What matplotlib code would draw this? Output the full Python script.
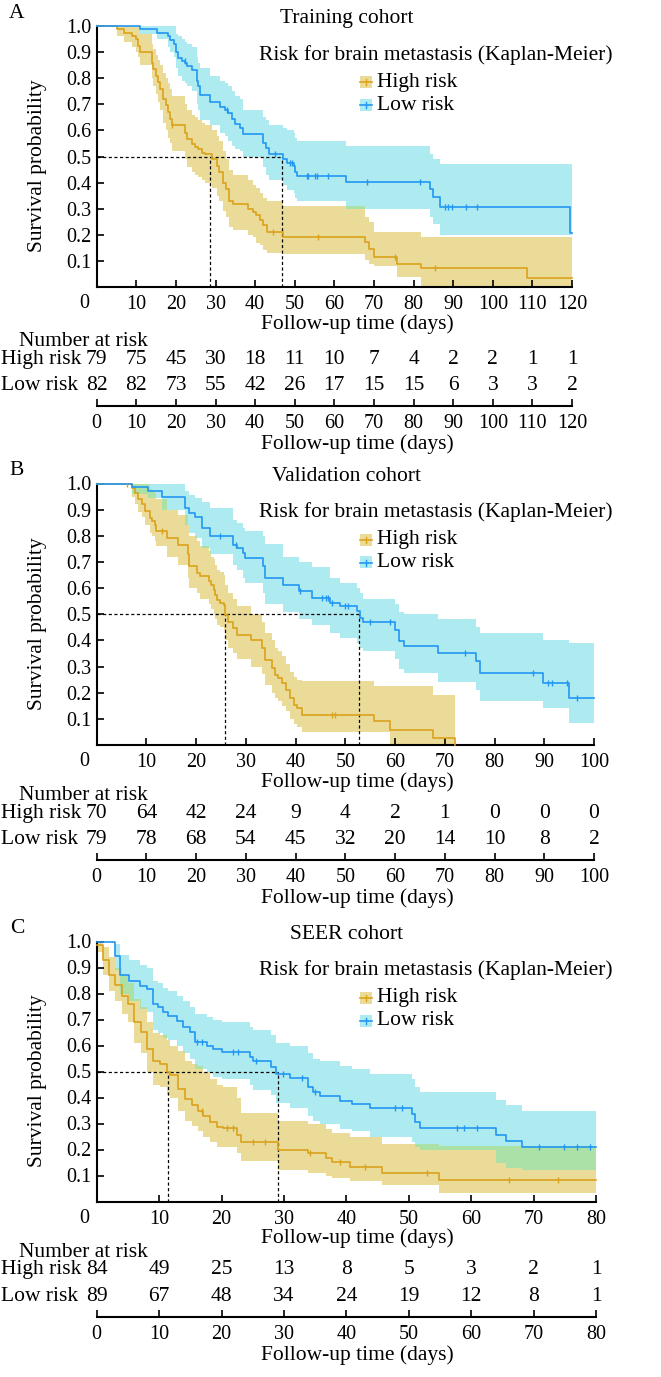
import numpy as np
import matplotlib.pyplot as plt
from matplotlib.patches import Rectangle
from matplotlib.lines import Line2D

plt.rcParams['font.family'] = ['Liberation Serif', 'DejaVu Serif']

# ---- panel A: training cohort ----
hA_t = [0, 5, 7, 9, 10, 10.5, 11, 14, 14.3, 15, 15.5, 16, 16.8, 17.5, 18, 18.5, 19, 22.3, 22.8, 24,
        24.8, 25.7, 26.5, 27.4, 29, 30.3, 31, 32, 32.7, 33.5, 34.5, 38.3, 39.5, 40.3, 41.2, 42, 43, 47,
        67.8, 68.8, 69.9, 75.8, 82, 108.6]
hA_s = [1.0, 0.987, 0.975, 0.962, 0.949, 0.924, 0.90, 0.86, 0.835, 0.81, 0.785, 0.76, 0.72, 0.696, 0.67,
        0.645, 0.62, 0.59, 0.566, 0.547, 0.538, 0.528, 0.515, 0.509, 0.49, 0.464, 0.44, 0.40, 0.375, 0.33,
        0.318, 0.30, 0.287, 0.274, 0.255, 0.236, 0.21, 0.19, 0.172, 0.147, 0.115, 0.09, 0.071, 0.035]
hA_lo = [1.0, 0.96, 0.94, 0.92, 0.90, 0.88, 0.85, 0.80, 0.77, 0.74, 0.71, 0.68, 0.63, 0.60, 0.57,
         0.55, 0.52, 0.49, 0.46, 0.44, 0.43, 0.42, 0.41, 0.40, 0.38, 0.35, 0.33, 0.29, 0.27, 0.23,
         0.22, 0.20, 0.19, 0.17, 0.16, 0.14, 0.13, 0.126, 0.105, 0.09, 0.08, 0.04, 0.0, 0.0]
hA_hi = [1.0, 1.0, 1.0, 1.0, 1.0, 1.0, 0.97, 0.93, 0.91, 0.89, 0.87, 0.85, 0.82, 0.80, 0.78,
         0.76, 0.73, 0.70, 0.68, 0.66, 0.65, 0.64, 0.63, 0.62, 0.60, 0.58, 0.56, 0.52, 0.49, 0.45,
         0.43, 0.41, 0.39, 0.38, 0.36, 0.34, 0.33, 0.31, 0.27, 0.25, 0.21, 0.21, 0.19, 0.19]
hA_c = [19, 44.5, 55.8, 75.2, 85.3]
hA_end = 120

lA_t = [0, 11, 15.2, 18, 18.5, 19.4, 20, 20.6, 21.5, 22.3, 22.7, 24, 25.3, 25.7, 26, 28.6, 31.1, 32.4,
        33.2, 34.1, 35, 36.2, 37, 42, 42.8, 43.6, 47, 48, 49.7, 50.1, 50.5, 63, 84.2, 85, 86.7, 119.5]
lA_s = [1.0, 0.99, 0.975, 0.96, 0.945, 0.93, 0.90, 0.877, 0.864, 0.857, 0.845, 0.832, 0.79, 0.77, 0.735,
        0.71, 0.69, 0.68, 0.667, 0.642, 0.623, 0.61, 0.585, 0.553, 0.534, 0.509, 0.49, 0.477, 0.464, 0.44,
        0.426, 0.403, 0.375, 0.344, 0.308, 0.205]
lA_lo = [1.0, 0.97, 0.95, 0.92, 0.90, 0.88, 0.84, 0.81, 0.79, 0.78, 0.77, 0.75, 0.70, 0.68, 0.64,
         0.62, 0.59, 0.58, 0.56, 0.54, 0.53, 0.52, 0.50, 0.46, 0.43, 0.41, 0.39, 0.37, 0.36, 0.34,
         0.33, 0.30, 0.27, 0.24, 0.20, 0.20]
lA_hi = [1.0, 1.0, 1.0, 1.0, 1.0, 1.0, 0.97, 0.96, 0.95, 0.94, 0.93, 0.92, 0.88, 0.86, 0.84,
         0.81, 0.79, 0.78, 0.77, 0.75, 0.73, 0.72, 0.68, 0.65, 0.64, 0.62, 0.61, 0.60, 0.59, 0.57,
         0.56, 0.54, 0.51, 0.49, 0.47, 0.47]
lA_c = [22.2, 32.8, 45, 48.8, 49.2, 53, 53.4, 55.1, 55.5, 58.5, 68.2, 81.6, 88, 88.8, 89.6, 93.3, 96]
lA_end = 120

# ---- panel B: validation cohort ----
hB_t = [0, 7, 7.7, 8.4, 9.1, 9.7, 10.7, 11.2, 11.7, 12, 14.1, 16.4, 18.4, 18.6, 20.1, 20.8, 22.5, 23,
        23.5, 23.8, 24.2, 24.8, 25.5, 25.8, 26.5, 27.5, 28.2, 31, 33.2, 33.8, 35.2, 35.9, 36.5, 37.2,
        38, 38.9, 39.6, 40.2, 41.2, 55.7, 59, 67.7, 72.1]
hB_s = [1.0, 0.983, 0.964, 0.94, 0.92, 0.894, 0.868, 0.856, 0.843, 0.82, 0.79, 0.766, 0.73, 0.683,
        0.658, 0.645, 0.626, 0.613, 0.594, 0.575, 0.556, 0.543, 0.537, 0.498, 0.47, 0.447, 0.42, 0.40,
        0.37, 0.326, 0.294, 0.268, 0.256, 0.237, 0.21, 0.18, 0.154, 0.14, 0.115, 0.09, 0.058, 0.028, 0.0]
hB_lo = [1.0, 0.95, 0.92, 0.89, 0.87, 0.84, 0.81, 0.80, 0.78, 0.76, 0.72, 0.69, 0.64, 0.60, 0.58,
         0.56, 0.54, 0.52, 0.50, 0.48, 0.46, 0.45, 0.44, 0.40, 0.37, 0.35, 0.33, 0.30, 0.27, 0.23,
         0.20, 0.18, 0.17, 0.15, 0.13, 0.10, 0.08, 0.07, 0.05, 0.05, 0.005, 0.0, 0.0]
hB_hi = [1.0, 1.0, 1.0, 1.0, 1.0, 1.0, 0.98, 0.97, 0.96, 0.94, 0.90, 0.88, 0.84, 0.80, 0.78,
         0.76, 0.74, 0.72, 0.71, 0.69, 0.67, 0.66, 0.65, 0.61, 0.58, 0.56, 0.53, 0.50, 0.47, 0.43,
         0.40, 0.37, 0.36, 0.34, 0.31, 0.28, 0.26, 0.25, 0.245, 0.225, 0.225, 0.19, 0.0]
hB_c = [6, 13.1, 47.3, 48]
hB_end = 72.1

lB_t = [0, 7, 10.4, 13.1, 17.8, 18.5, 19.8, 21.1, 22.8, 27.5, 28.2, 29.5, 29.8, 33.5, 33.9, 37.5,
        40.6, 43.3, 47, 49, 52.3, 53, 53.6, 59.9, 60.7, 61.7, 68.7, 76.3, 77.1, 89.8, 95]
lB_s = [1.0, 0.987, 0.973, 0.95, 0.907, 0.888, 0.87, 0.83, 0.80, 0.766, 0.754, 0.734, 0.715, 0.683,
        0.64, 0.613, 0.588, 0.562, 0.543, 0.53, 0.511, 0.486, 0.47, 0.44, 0.396, 0.377, 0.35, 0.32,
        0.274, 0.238, 0.178]
lB_lo = [1.0, 0.96, 0.945, 0.90, 0.84, 0.81, 0.79, 0.754, 0.73, 0.69, 0.67, 0.64, 0.62, 0.58,
         0.54, 0.51, 0.48, 0.46, 0.43, 0.41, 0.39, 0.37, 0.36, 0.33, 0.29, 0.275, 0.24, 0.21,
         0.17, 0.14, 0.083]
lB_hi = [1.0, 1.0, 1.0, 1.0, 0.97, 0.955, 0.945, 0.93, 0.907, 0.86, 0.85, 0.83, 0.82, 0.80,
         0.77, 0.72, 0.70, 0.68, 0.64, 0.62, 0.60, 0.58, 0.56, 0.54, 0.51, 0.50, 0.48, 0.45,
         0.43, 0.40, 0.39]
lB_c = [24.8, 28, 40.9, 45.3, 46.1, 46.6, 47.4, 50, 50.6, 55, 59, 74, 87.7, 90.7, 91.5, 94.5, 96.6]
lB_end = 100

# ---- panel C: SEER cohort ----
hC_t = [0, 1.07, 2.03, 2.94, 4.11, 5.07, 6.04, 7.05, 8.01, 9.08, 10.15, 11.2, 11.8, 13.1, 14.2,
        15.2, 16.3, 17.1, 18.1, 19.2, 20.3, 22.4, 23.2, 29.1, 33.9, 36.7, 37.7, 40.6, 45.7, 54.9]
hC_s = [0.988, 0.927, 0.872, 0.831, 0.792, 0.76, 0.69, 0.651, 0.587, 0.542, 0.53, 0.497, 0.485,
        0.433, 0.395, 0.37, 0.35, 0.33, 0.305, 0.286, 0.282, 0.254, 0.228, 0.199, 0.186, 0.167,
        0.151, 0.132, 0.109, 0.081]
hC_lo = [0.96, 0.87, 0.81, 0.77, 0.72, 0.69, 0.61, 0.57, 0.50, 0.45, 0.44, 0.41, 0.40, 0.35, 0.31,
         0.29, 0.27, 0.25, 0.23, 0.21, 0.21, 0.185, 0.154, 0.12, 0.11, 0.10, 0.09, 0.08, 0.065, 0.032]
hC_hi = [1.0, 0.98, 0.94, 0.90, 0.87, 0.84, 0.78, 0.75, 0.69, 0.65, 0.64, 0.62, 0.60, 0.58, 0.54,
         0.53, 0.52, 0.50, 0.47, 0.45, 0.44, 0.40, 0.34, 0.31, 0.30, 0.28, 0.265, 0.25, 0.22, 0.215]
hC_c = [16.8, 20.8, 21.9, 25, 27, 34.2, 39, 43, 53, 66, 73.9]
hC_end = 80

lC_t = [0, 2.9, 3.7, 5.1, 7.0, 8.0, 9.1, 9.9, 10.7, 11.5, 12.8, 13.9, 15.0, 15.8, 17.6, 18.7, 20.0,
        24.6, 25.1, 28.0, 28.8, 31.0, 33.9, 34.7, 35.8, 39.0, 40.9, 43.8, 50.5, 51.0, 51.8, 64.0,
        65.6, 68.1]
lC_s = [1.0, 0.946, 0.87, 0.85, 0.83, 0.818, 0.76, 0.747, 0.728, 0.715, 0.696, 0.67, 0.651, 0.613,
        0.60, 0.587, 0.574, 0.555, 0.542, 0.517, 0.49, 0.474, 0.44, 0.42, 0.405, 0.388, 0.376, 0.359,
        0.337, 0.305, 0.282, 0.256, 0.231, 0.208]
lC_lo = [1.0, 0.89, 0.80, 0.77, 0.74, 0.73, 0.66, 0.65, 0.63, 0.62, 0.60, 0.57, 0.55, 0.51, 0.50,
         0.48, 0.47, 0.45, 0.43, 0.41, 0.38, 0.36, 0.33, 0.31, 0.30, 0.28, 0.27, 0.25, 0.23, 0.21,
         0.20, 0.15, 0.13, 0.12]
lC_hi = [1.0, 0.99, 0.95, 0.93, 0.91, 0.90, 0.85, 0.84, 0.82, 0.81, 0.79, 0.77, 0.75, 0.72, 0.71,
         0.70, 0.69, 0.67, 0.66, 0.64, 0.61, 0.60, 0.57, 0.55, 0.54, 0.52, 0.51, 0.49, 0.47, 0.44,
         0.42, 0.39, 0.37, 0.35]
lC_c = [16, 16.8, 21.9, 22.7, 25.6, 29.9, 32.9, 35, 47.8, 48.9, 57.8, 58.8, 61, 70.8, 74.9, 76.9, 79]
lC_end = 80

# medians and number at risk
medians = [[28.7, 46.8], [25.8, 52.8], [11.5, 29.0]]
titles = ["Training cohort", "Validation cohort", "SEER cohort"]
letters = ["A", "B", "C"]
t_max = [120, 100, 80]
risk_high = [[79, 75, 45, 30, 18, 11, 10, 7, 4, 2, 2, 1, 1],
             [70, 64, 42, 24, 9, 4, 2, 1, 0, 0, 0],
             [84, 49, 25, 13, 8, 5, 3, 2, 1]]
risk_low = [[82, 82, 73, 55, 42, 26, 17, 15, 15, 6, 3, 3, 2],
            [79, 78, 68, 54, 45, 32, 20, 14, 10, 8, 2],
            [89, 67, 48, 34, 24, 19, 12, 8, 1]]

HIGH_LINE = "#D9A21B"
HIGH_BAND = "#EBDB98"
LOW_LINE = "#2196F3"
LOW_BAND = "#AEEBF1"
BOTH_BAND = "#ABE0A6"

W, H = 661, 1377
FS = 15.5
TFS = 14.5


def fx(px):
    return px / W


def fy(py):
    return 1 - py / H


def step_at(t, v, x):
    idx = np.searchsorted(t, x, side='right') - 1
    return np.asarray(v)[idx]


def draw_km(ax, t, s, lo, hi, tend, cens, line_c, band_c, z):
    tt = list(t) + [tend]
    ax.fill_between(tt, list(lo) + [lo[-1]], list(hi) + [hi[-1]], step='post',
                    color=band_c, lw=0, zorder=z)
    ax.step(tt, list(s) + [s[-1]], where='post', color=line_c, lw=1.2, zorder=5, clip_on=False)
    ys = [s[np.searchsorted(t, c, side='right') - 1] for c in cens]
    ax.plot(cens, ys, ls='none', marker='|', ms=5, mew=1, color=line_c, zorder=6)


def draw_overlap(ax, a, b):
    # where the two confidence bands cover each other
    (t1, lo1, hi1, e1), (t2, lo2, hi2, e2) = a, b
    end = min(e1, e2)
    g = np.array(sorted(set([x for x in list(t1) + list(t2) if x < end] + [end])))
    lo = np.maximum(step_at(t1, lo1, g), step_at(t2, lo2, g))
    hi = np.minimum(step_at(t1, hi1, g), step_at(t2, hi2, g))
    hi = np.maximum(hi, lo)
    ax.fill_between(g, lo, hi, step='post', color=BOTH_BAND, lw=0, zorder=3)


def main():
    fig = plt.figure(figsize=(6.61, 13.77), dpi=100)

    left = 96.7
    tops = [26, 483.5, 941.5]
    bots = [287, 745, 1201.5]
    rights = [572, 594, 596]
    table_line = [406, 860, 1316.7]
    d = [(hA_t, hA_s, hA_lo, hA_hi, hA_c, hA_end, lA_t, lA_s, lA_lo, lA_hi, lA_c, lA_end),
         (hB_t, hB_s, hB_lo, hB_hi, hB_c, hB_end, lB_t, lB_s, lB_lo, lB_hi, lB_c, lB_end),
         (hC_t, hC_s, hC_lo, hC_hi, hC_c, hC_end, lC_t, lC_s, lC_lo, lC_hi, lC_c, lC_end)]

    for i in range(3):
        top, bot, right, tm = tops[i], bots[i], rights[i], t_max[i]
        ax = fig.add_axes([fx(left), fy(bot), fx(right) - fx(left), fy(top) - fy(bot)])
        ht, hs, hl, hh, hc, he, lt, ls_, ll, lh, lc, le = d[i]
        draw_km(ax, ht, hs, hl, hh, he, hc, HIGH_LINE, HIGH_BAND, 1)
        draw_km(ax, lt, ls_, ll, lh, le, lc, LOW_LINE, LOW_BAND, 2)
        draw_overlap(ax, (ht, hl, hh, he), (lt, ll, lh, le))
        m1, m2 = medians[i]
        ax.plot([0, max(m1, m2)], [0.5, 0.5], color='k', lw=0.9, dashes=(2.5, 2), zorder=4)
        for m in (m1, m2):
            ax.plot([m, m], [0, 0.5], color='k', lw=0.9, dashes=(2.5, 2), zorder=4)

        ax.set_xlim(0, tm)
        ax.set_ylim(0, 1.0)
        for sp in ('top', 'right'):
            ax.spines[sp].set_visible(False)
        for sp in ('left', 'bottom'):
            ax.spines[sp].set_linewidth(1.5)
        ax.set_xticks(np.arange(10, tm + 1, 10))
        ax.set_yticks(np.arange(1, 11) / 10)
        ax.set_yticklabels(["%.1f" % v for v in np.arange(1, 11) / 10])
        ax.tick_params(axis='x', direction='in', length=5, width=1.2, labelsize=TFS, pad=6)
        ax.tick_params(axis='y', direction='in', length=5, width=1.2, labelsize=TFS, pad=4)
        fig.text(fx(84), fy(bot + 17), "0", fontsize=TFS, ha='center', va='center')

        fig.text(fx(38), fy((top + bot) / 2 + 9), "Survival probability", rotation=90,
                 fontsize=FS, ha='center', va='center')
        fig.text(fx(357), fy(bot + 37), "Follow-up time (days)", fontsize=FS, ha='center', va='center')
        fig.text(fx(17), fy(top - 13), letters[i], fontsize=FS, ha='center', va='center')
        fig.text(fx(347), fy(top - 7), titles[i], fontsize=FS, ha='center', va='center')

        # legend
        fig.text(fx(259), fy(top + 29), "Risk for brain metastasis (Kaplan-Meier)",
                 fontsize=FS, ha='left', va='center')
        for yy, lab, lcol, bcol in ((top + 56, "High risk", HIGH_LINE, HIGH_BAND),
                                    (top + 79, "Low risk", LOW_LINE, LOW_BAND)):
            fig.add_artist(Rectangle((fx(360), fy(yy + 6)), 12 / W, 12 / H, transform=fig.transFigure,
                                     facecolor=bcol, lw=0))
            fig.add_artist(Line2D([fx(360), fx(372)], [fy(yy), fy(yy)], transform=fig.transFigure,
                                  color=lcol, lw=1.2))
            fig.add_artist(Line2D([fx(366), fx(366)], [fy(yy - 3), fy(yy + 3)], transform=fig.transFigure,
                                  color=lcol, lw=1))
            fig.text(fx(377), fy(yy), lab, fontsize=FS, ha='left', va='center')

        # number at risk table
        ln = table_line[i]
        axt = fig.add_axes([fx(left), fy(ln), fx(right) - fx(left), 0.01])
        axt.set_xlim(0, tm)
        axt.set_ylim(0, 1)
        for sp in ('top', 'right', 'left'):
            axt.spines[sp].set_visible(False)
        axt.spines['bottom'].set_linewidth(1.5)
        axt.set_yticks([])
        ticks = np.arange(0, tm + 1, 10)
        axt.set_xticks(ticks)
        axt.tick_params(direction='in', length=5, width=1.2, labelsize=TFS, pad=6)
        fig.text(fx(357), fy(ln + 38), "Follow-up time (days)", fontsize=FS, ha='center', va='center')
        fig.text(fx(19), fy(ln - 64), "Number at risk", fontsize=FS, ha='left', va='center')
        fig.text(fx(1), fy(ln - 47), "High risk", fontsize=FS, ha='left', va='center')
        fig.text(fx(1), fy(ln - 20), "Low risk", fontsize=FS, ha='left', va='center')
        for k, x in enumerate(ticks):
            xf = fx(left) + (fx(right) - fx(left)) * x / tm
            fig.text(xf, fy(ln - 47), str(risk_high[i][k]), fontsize=FS, ha='center', va='center')
            fig.text(xf, fy(ln - 20), str(risk_low[i][k]), fontsize=FS, ha='center', va='center')

    fig.savefig("out.png", dpi=100)


if __name__ == "__main__":
    main()
